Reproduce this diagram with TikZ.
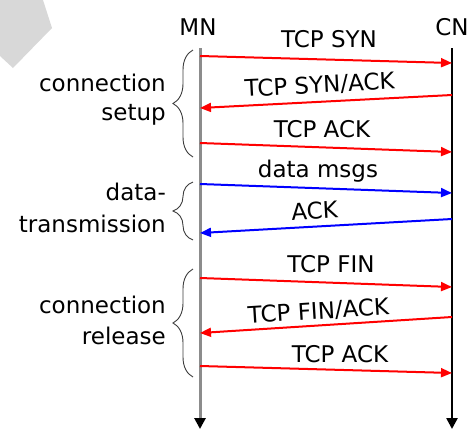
\documentclass[tikz,border=0pt]{standalone}
\usepackage{fontspec}
\setmainfont{DejaVu Sans}
\usetikzlibrary{arrows.meta,decorations.pathreplacing}
\definecolor{pent}{RGB}{216,216,216}
\definecolor{mngray}{RGB}{140,140,140}
\definecolor{bracegray}{RGB}{60,60,60}
\begin{document}
\begin{tikzpicture}[x=1pt,y=-1pt,
  lbl/.style={font=\fontsize{23}{28}\selectfont, inner sep=0pt, anchor=base},
  side/.style={font=\fontsize{23}{28}\selectfont, inner sep=0pt, anchor=base east},
  msgred/.style={draw=red, line width=2pt, -{Triangle[length=11pt,width=9pt]}},
  msgblue/.style={draw=blue, line width=2pt, -{Triangle[length=11pt,width=9pt]}},
  brc/.style={draw=bracegray, line width=0.9pt, decorate, decoration={brace, amplitude=20pt}},
  tl/.style={line width=3pt, -{Triangle[length=11pt,width=11pt,color=black]}}
]
\useasboundingbox (0,0) rectangle (474,429);
% decorative pentagon
\fill[pent] (0,0) -- (43,0) -- (52,28) -- (13,68) -- (0,56) -- cycle;

% entity labels
\node[lbl] (MN) at (198,35) {MN};
\node[lbl] (CN) at (452,35) {CN};

% time lines
\coordinate (MNtop) at (200,48);
\coordinate (MNbot) at (200,429);
\coordinate (CNtop) at (452,48);
\coordinate (CNbot) at (452,429);
\draw[tl, draw=mngray] (MNtop) -- (MNbot);
\draw[tl, draw=black, line width=2.5pt] (CNtop) -- (CNbot);

% message end points
\coordinate (a1) at (200,56);  \coordinate (b1) at (452,63);
\coordinate (b2) at (452,95);  \coordinate (a2) at (200,108);
\coordinate (a3) at (200,143); \coordinate (b3) at (452,152);
\coordinate (a4) at (200,184); \coordinate (b4) at (452,193);
\coordinate (b5) at (452,219); \coordinate (a5) at (200,233);
\coordinate (a6) at (200,278); \coordinate (b6) at (452,287);
\coordinate (b7) at (452,317); \coordinate (a7) at (200,333);
\coordinate (a8) at (200,366); \coordinate (b8) at (452,373);

\draw[msgred] (a1) -- (b1);
\draw[msgred] (b2) -- (a2);
\draw[msgred] (a3) -- (b3);
\draw[msgblue] (a4) -- (b4);
\draw[msgblue] (b5) -- (a5);
\draw[msgred] (a6) -- (b6);
\draw[msgred] (b7) -- (a7);
\draw[msgred] (a8) -- (b8);

% message labels
\node[lbl] (l1) at (329,47) {TCP SYN};
\node[lbl, rotate=3] (l2) at (320,93) {TCP SYN/ACK};
\node[lbl] (l3) at (322,137) {TCP ACK};
\node[lbl] (l4) at (318,177) {data msgs};
\node[lbl, rotate=3.2] (l5) at (315,219) {ACK};
\node[lbl] (l6) at (331,272) {TCP FIN};
\node[lbl, rotate=3.6] (l7) at (319,319) {TCP FIN/ACK};
\node[lbl] (l8) at (340,362) {TCP ACK};

% braces
\coordinate (br1b) at (193,157); \coordinate (br1t) at (193,50);
\coordinate (br2b) at (193,240); \coordinate (br2t) at (193,182);
\coordinate (br3b) at (193,377); \coordinate (br3t) at (193,269);
\draw[brc] (br1b) -- (br1t);
\draw[brc] (br2b) -- (br2t);
\draw[brc] (br3b) -- (br3t);

% phase labels
\node[side] (p1a) at (166,91) {connection};
\node[side] (p1b) at (166,120) {setup};
\node[side] (p2a) at (166,200) {data-};
\node[side] (p2b) at (166,232) {transmission};
\node[side] (p3a) at (166,313) {connection};
\node[side] (p3b) at (166,344) {release};
\end{tikzpicture}
\end{document}
